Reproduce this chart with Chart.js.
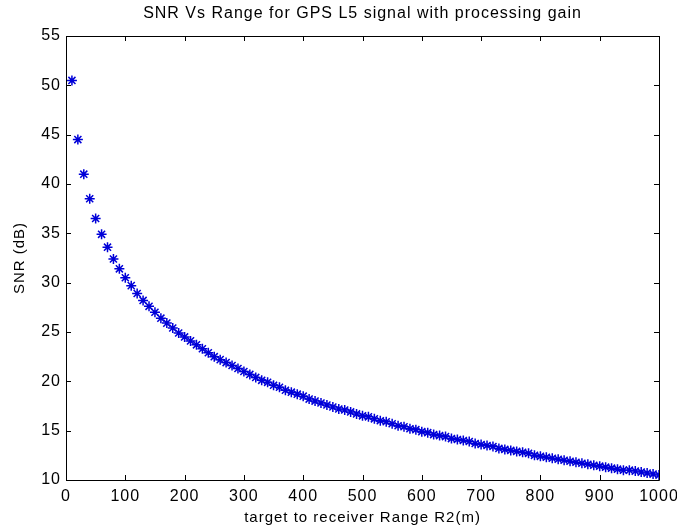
<!DOCTYPE html>
<html>
<head>
<meta charset="utf-8">
<script src="https://cdn.jsdelivr.net/npm/chart.js@4/dist/chart.umd.min.js"></script>
<style>
  html, body { margin: 0; padding: 0; background: #fff; }
  #wrap { width: 677px; height: 532px; }
</style>
</head>
<body>
<div id="wrap"><canvas id="snr-chart"></canvas></div>
<script>
// SNR vs range, GPS L5 with processing gain

const ranges = [10, 20, 30, 40, 50, 60, 70, 80, 90, 100,
    110, 120, 130, 140, 150, 160, 170, 180, 190, 200,
    210, 220, 230, 240, 250, 260, 270, 280, 290, 300,
    310, 320, 330, 340, 350, 360, 370, 380, 390, 400,
    410, 420, 430, 440, 450, 460, 470, 480, 490, 500,
    510, 520, 530, 540, 550, 560, 570, 580, 590, 600,
    610, 620, 630, 640, 650, 660, 670, 680, 690, 700,
    710, 720, 730, 740, 750, 760, 770, 780, 790, 800,
    810, 820, 830, 840, 850, 860, 870, 880, 890, 900,
    910, 920, 930, 940, 950, 960, 970, 980, 990, 1000]

const snrValues = [50.5, 44.5, 41.0, 38.5, 36.5, 34.9, 33.6, 32.4, 31.4, 30.5,
    29.7, 28.9, 28.2, 27.6, 27.0, 26.4, 25.9, 25.4, 24.9, 24.5,
    24.1, 23.7, 23.3, 22.9, 22.5, 22.2, 21.9, 21.6, 21.3, 21.0,
    20.7, 20.4, 20.1, 19.9, 19.6, 19.4, 19.1, 18.9, 18.7, 18.5,
    18.2, 18.0, 17.8, 17.6, 17.4, 17.2, 17.1, 16.9, 16.7, 16.5,
    16.4, 16.2, 16.0, 15.9, 15.7, 15.5, 15.4, 15.2, 15.1, 14.9,
    14.8, 14.6, 14.5, 14.4, 14.2, 14.1, 14.0, 13.9, 13.7, 13.6,
    13.5, 13.4, 13.2, 13.1, 13.0, 12.9, 12.8, 12.7, 12.5, 12.4,
    12.3, 12.2, 12.1, 12.0, 11.9, 11.8, 11.7, 11.6, 11.5, 11.4,
    11.3, 11.2, 11.1, 11.0, 11.0, 10.9, 10.8, 10.7, 10.6, 10.5]

const xTicks = [0, 100, 200, 300, 400, 500, 600, 700, 800, 900, 1000]
const yTicks = [10, 15, 20, 25, 30, 35, 40, 45, 50, 55]

const font = 'Arial, "Liberation Sans", Helvetica, sans-serif'

// the reference text is spaced out a bit more than plain Arial
const spacing = {
    id: 'spacing',
    beforeLayout(chart) { chart.ctx.letterSpacing = '1px' },
    beforeDraw(chart) { chart.ctx.letterSpacing = '1px' }
}

// matlab style box with ticks pointing inwards
const boxTicks = {
    id: 'boxTicks',
    afterDatasetsDraw(chart) {
        const ctx = chart.ctx
        const a = chart.chartArea
        const xs = chart.scales.x
        const ys = chart.scales.y
        const len = 5
        ctx.save()
        ctx.strokeStyle = '#000'
        ctx.lineWidth = 1
        ctx.beginPath()
        ctx.rect(Math.round(a.left) + 0.5, Math.round(a.top) + 0.5,
            Math.round(a.right - a.left), Math.round(a.bottom - a.top))
        xTicks.forEach(v => {
            const px = Math.round(xs.getPixelForValue(v)) + 0.5
            ctx.moveTo(px, a.bottom); ctx.lineTo(px, a.bottom - len)
            ctx.moveTo(px, a.top); ctx.lineTo(px, a.top + len)
        })
        yTicks.forEach(v => {
            const py = Math.round(ys.getPixelForValue(v)) + 0.5
            ctx.moveTo(a.left, py); ctx.lineTo(a.left + len, py)
            ctx.moveTo(a.right, py); ctx.lineTo(a.right - len, py)
        })
        ctx.stroke()
        ctx.restore()
    }
}

new Chart(
    document.getElementById('snr-chart'),
    {
        type: 'scatter',
        data: {
            datasets: [{
                label: 'SNR',
                data: ranges.map((r, i) => ({ x: r, y: snrValues[i] })),
                pointStyle: 'star',
                pointRadius: 5,
                borderColor: '#0000d8',
                backgroundColor: '#0000d8',
                borderWidth: 1.5
            }]
        },
        options: {
            responsive: true,
            maintainAspectRatio: false,
            animation: false,
            layout: { padding: { left: 0, right: 18, top: 0, bottom: 0 } },
            plugins: {
                legend: { display: false },
                tooltip: { enabled: false },
                title: {
                    display: true,
                    fullSize: false,
                    text: 'SNR Vs Range for GPS L5 signal with processing gain',
                    color: '#000',
                    font: { family: font, size: 16, weight: 'normal' },
                    padding: { top: 4, bottom: 12.8 }
                }
            },
            scales: {
                x: {
                    type: 'linear',
                    min: 0,
                    max: 1000,
                    afterBuildTicks: s => { s.ticks = xTicks.map(v => ({ value: v })) },
                    afterFit: s => { s.height = 52; s.paddingLeft = 0; s.paddingRight = 0 },
                    grid: { display: false, drawTicks: false },
                    border: { display: false },
                    ticks: {
                        color: '#000',
                        font: { family: font, size: 16 },
                        padding: 7,
                        maxRotation: 0,
                        callback: v => String(v)
                    },
                    title: {
                        display: true,
                        text: 'target to receiver Range R2(m)',
                        color: '#000',
                        font: { family: font, size: 15 },
                        padding: { top: 0, bottom: 5 }
                    }
                },
                y: {
                    min: 10,
                    max: 55,
                    afterBuildTicks: s => { s.ticks = yTicks.map(v => ({ value: v })) },
                    afterFit: s => { s.width = 66; s.paddingTop = 0; s.paddingBottom = 0 },
                    grid: { display: false, drawTicks: false },
                    border: { display: false },
                    ticks: { color: '#000', font: { family: font, size: 16 }, padding: 5 },
                    title: {
                        display: true,
                        text: 'SNR (dB)',
                        color: '#000',
                        font: { family: font, size: 15 },
                        padding: { top: 11, bottom: 0 }
                    }
                }
            }
        },
        plugins: [spacing, boxTicks]
    }
)
</script>
</body>
</html>
